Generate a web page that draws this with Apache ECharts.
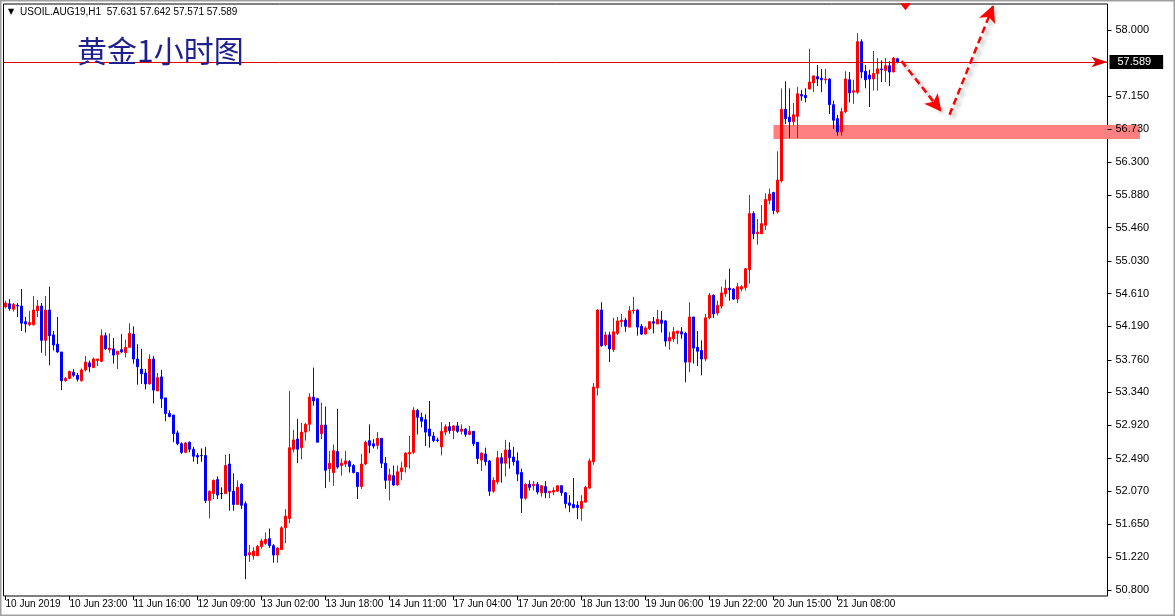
<!DOCTYPE html>
<html><head><meta charset="utf-8">
<script src="https://cdn.jsdelivr.net/npm/echarts@6/dist/echarts.min.js"></script>
<style>html,body{margin:0;padding:0;background:#fff;}#c{width:1175px;height:616px;}</style>
</head><body><div id="c"></div>
<script>
const opens=[54.44,54.48,54.41,54.46,54.45,54.25,54.21,54.21,54.39,54.45,54.01,54.40,54.08,53.96,53.86,53.49,53.52,53.60,53.56,53.49,53.63,53.72,53.66,53.75,53.74,54.07,53.89,53.90,53.83,53.89,53.85,53.92,54.09,53.77,53.64,53.59,53.45,53.77,53.36,53.54,53.27,53.07,53.05,52.82,52.68,52.57,52.70,52.61,52.53,52.53,
52.53,51.95,52.04,52.22,52.04,52.04,52.42,52.07,51.90,52.16,51.91,51.25,51.24,51.24,51.36,51.40,51.46,51.37,51.25,51.32,51.60,51.72,52.61,52.74,52.63,52.83,52.93,53.28,53.26,52.81,52.92,52.36,52.31,52.58,52.40,52.42,52.45,52.40,52.31,52.13,52.42,52.72,52.68,52.66,52.75,52.43,52.21,52.27,52.15,52.32,
52.38,52.55,52.57,53.11,53.02,52.99,52.87,52.78,52.73,52.64,52.83,52.90,52.85,52.91,52.84,52.87,52.80,52.84,52.70,52.47,52.55,52.46,52.07,52.19,52.50,52.43,52.60,52.51,52.46,52.31,51.98,52.16,52.14,52.16,52.05,52.13,52.05,52.06,52.07,52.14,52.05,51.92,51.90,51.89,51.85,51.93,52.11,52.45,53.40,54.40,
53.95,54.08,53.89,54.10,54.25,54.27,54.18,54.39,54.40,54.19,54.09,54.16,54.25,54.22,54.27,54.26,54.00,54.03,54.10,54.12,54.10,53.73,54.31,53.92,53.88,53.77,54.30,54.59,54.36,54.45,54.61,54.68,54.67,54.54,54.67,54.69,54.92,55.64,55.38,55.38,55.49,55.81,55.91,55.66,56.06,56.98,56.88,56.82,56.89,57.17,
57.16,57.24,57.32,57.40,57.38,57.36,57.37,57.04,56.86,56.69,56.95,57.36,57.20,57.20,57.85,57.47,57.42,57.37,57.44,57.50,57.48,57.54,57.46,57.631];
const highs=[54.52,54.54,54.49,54.49,54.67,54.31,54.39,54.58,54.53,54.49,54.58,54.70,54.13,54.31,53.86,53.54,53.62,53.64,53.59,53.65,53.81,53.75,53.79,53.77,54.15,54.11,54.10,54.04,53.87,54.09,54.02,54.23,54.19,53.96,53.90,53.64,53.83,53.81,53.59,53.63,53.27,53.11,53.05,52.85,52.70,52.70,52.71,52.64,52.56,52.62,
52.64,52.08,52.22,52.26,52.12,52.54,52.55,52.30,52.21,52.17,51.94,51.38,51.35,51.38,51.46,51.54,51.59,51.39,51.35,51.62,51.84,53.36,52.86,53.00,52.95,52.95,53.33,53.66,53.27,53.21,53.16,52.59,52.67,53.13,52.49,52.59,52.47,52.42,52.31,52.55,52.72,52.93,52.74,52.83,52.75,52.51,52.36,52.40,52.40,52.45,
52.57,52.78,53.15,53.13,53.08,53.06,53.23,52.83,52.76,52.96,52.93,52.96,52.92,52.96,52.93,52.88,52.91,52.84,52.70,52.57,52.63,52.47,52.25,52.59,52.56,52.73,52.70,52.64,52.57,52.36,52.17,52.21,52.20,52.19,52.15,52.20,52.07,52.12,52.15,52.15,52.06,52.02,52.24,51.94,52.02,52.14,52.49,53.46,54.41,54.50,
54.12,54.12,54.30,54.31,54.35,54.30,54.45,54.57,54.41,54.22,54.19,54.26,54.31,54.40,54.39,54.27,54.12,54.18,54.13,54.18,54.12,54.50,54.31,54.13,54.01,54.35,54.62,54.60,54.52,54.70,54.79,54.93,54.68,54.75,54.72,54.94,55.88,55.67,55.57,55.75,55.90,55.96,55.92,56.44,57.25,57.34,57.25,57.06,57.27,57.23,
57.25,57.76,57.41,57.55,57.50,57.50,57.38,57.09,56.91,57.00,57.47,57.46,57.36,57.96,57.88,57.55,57.49,57.73,57.64,57.61,57.64,57.60,57.65,57.642];
const lows=[54.42,54.39,54.38,54.31,54.13,54.11,54.19,54.20,54.31,53.85,53.81,53.69,53.88,53.85,53.37,53.48,53.51,53.54,53.48,53.48,53.61,53.60,53.66,53.68,53.73,53.89,53.85,53.71,53.64,53.85,53.79,53.92,53.71,53.44,53.45,53.38,53.44,53.20,53.36,53.14,52.97,53.02,52.70,52.66,52.55,52.56,52.57,52.45,52.42,52.45,
51.92,51.72,51.97,51.97,51.97,52.04,51.82,51.82,51.90,51.84,50.94,51.16,51.19,51.24,51.33,51.38,51.34,51.15,51.15,51.32,51.40,51.66,52.57,52.43,52.48,52.72,52.84,53.17,52.70,52.74,52.11,52.19,52.14,52.36,52.27,52.38,52.31,52.30,51.97,52.10,52.41,52.56,52.62,52.61,52.37,52.10,51.95,52.14,52.14,52.21,
52.31,52.36,52.55,52.80,52.89,52.65,52.63,52.70,52.70,52.53,52.79,52.81,52.74,52.82,52.80,52.77,52.80,52.65,52.42,52.33,52.40,52.01,52.05,52.16,52.18,52.26,52.36,52.40,52.20,51.79,51.96,52.08,52.08,52.03,52.00,51.98,51.98,52.02,52.06,52.01,51.85,51.80,51.85,51.71,51.69,51.92,52.10,52.41,53.30,53.93,
53.93,53.73,53.86,54.08,54.18,54.12,54.18,54.35,54.07,54.08,54.09,54.14,54.10,54.22,54.11,53.93,53.89,53.99,53.96,54.03,53.47,53.60,53.71,53.68,53.56,53.74,54.28,54.30,54.33,54.42,54.57,54.52,54.53,54.49,54.64,54.65,54.74,55.31,55.24,55.38,55.43,55.76,55.63,55.64,56.04,56.79,56.61,56.77,56.61,57.09,
57.07,57.24,57.20,57.28,57.20,57.31,56.92,56.73,56.64,56.64,56.93,57.07,57.05,57.18,57.38,57.25,57.01,57.22,57.22,57.33,57.33,57.28,57.46,57.571];
const closes=[54.49,54.42,54.47,54.45,54.23,54.22,54.24,54.40,54.45,54.01,54.40,54.07,53.95,53.86,53.49,53.52,53.61,53.56,53.51,53.63,53.73,53.67,53.77,53.77,54.07,53.90,53.91,53.82,53.87,53.86,53.92,54.10,53.77,53.67,53.58,53.45,53.77,53.37,53.53,53.26,53.07,53.03,52.81,52.68,52.57,52.69,52.61,52.52,52.51,52.53,
51.95,52.07,52.21,52.02,52.04,52.40,52.07,51.90,52.12,51.89,51.24,51.28,51.30,51.36,51.43,51.45,51.37,51.25,51.34,51.60,51.75,52.63,52.73,52.61,52.83,52.93,53.28,53.23,52.70,52.92,52.34,52.43,52.59,52.38,52.43,52.46,52.39,52.31,52.13,52.42,52.70,52.66,52.65,52.75,52.43,52.21,52.28,52.15,52.32,52.37,
52.56,52.57,53.11,53.02,52.97,52.83,52.78,52.72,52.72,52.84,52.90,52.85,52.91,52.84,52.87,52.80,52.84,52.68,52.49,52.56,52.45,52.07,52.21,52.50,52.43,52.60,52.50,52.45,52.29,51.98,52.16,52.12,52.16,52.06,52.14,52.05,52.07,52.08,52.14,52.05,51.91,51.89,51.86,51.86,51.94,52.12,52.46,53.41,54.40,53.94,
54.08,53.90,54.12,54.26,54.27,54.19,54.39,54.40,54.18,54.09,54.17,54.25,54.23,54.28,54.23,54.00,54.05,54.12,54.13,54.09,53.73,54.31,53.91,53.87,53.77,54.30,54.59,54.35,54.46,54.62,54.68,54.66,54.54,54.70,54.70,54.93,55.64,55.38,55.40,55.51,55.82,55.89,55.68,56.07,56.98,56.86,56.82,56.91,57.18,57.15,
57.13,57.33,57.41,57.37,57.36,57.37,57.04,56.84,56.69,56.95,57.37,57.19,57.22,57.85,57.46,57.36,57.37,57.44,57.50,57.49,57.54,57.46,57.64,57.589];
const xTickLabels=['10 Jun 2019','10 Jun 23:00','11 Jun 16:00','12 Jun 09:00','13 Jun 02:00','13 Jun 18:00','14 Jun 11:00','17 Jun 04:00','17 Jun 20:00','18 Jun 13:00','19 Jun 06:00','19 Jun 22:00','20 Jun 15:00','21 Jun 08:00'];
const yTickValues=[50.800,51.220,51.650,52.070,52.490,52.920,53.340,53.760,54.190,54.610,55.030,55.460,55.880,56.300,56.730,57.150,58.000];
const headerText='USOIL.AUG19,H1  57.631 57.642 57.571 57.589';
const titleText='黄金1小时图';
const currentPrice=57.589;
const zoneLow=56.60, zoneHigh=56.78, zoneStartBar=192;
const arrowDown=[[223.5,57.60],[233.5,56.95]];
const arrowUp=[[236.2,56.91],[246.7,58.32]];
const markerTop=[225.2,58.30];
const SLOTS=276, TICK_EVERY=16;

const categories=[];
for(let i=0;i<SLOTS;i++){categories.push(i%TICK_EVERY===0 && i/TICK_EVERY<xTickLabels.length ? xTickLabels[i/TICK_EVERY] : '');}
const candleData=opens.map((o,i)=>[o,closes[i],lows[i],highs[i]]);
const showTick=(idx,val)=>val!=='';
const arrowStyle={color:'#ff0000',width:2.5,type:[7,4],shadowColor:'rgba(0,0,0,0.35)',shadowBlur:4,shadowOffsetX:3,shadowOffsetY:3};

const chart=echarts.init(document.getElementById('c'),null,{renderer:'canvas'});
chart.setOption({
  animation:false,
  backgroundColor:'#ffffff',
  grid:{left:3.5,right:67.5,top:4,bottom:20,show:true,borderColor:'#000',borderWidth:1,backgroundColor:'transparent'},
  xAxis:{type:'category',data:categories,boundaryGap:true,
    axisLine:{show:false},
    axisTick:{show:true,alignWithLabel:true,interval:showTick,length:4,lineStyle:{color:'#000'}},
    axisLabel:{interval:showTick,align:'left',margin:3,fontSize:10,fontFamily:'Liberation Sans',color:'#000'},
    splitLine:{show:false}},
  yAxis:{type:'value',position:'right',min:50.7229,max:58.3343,z:5,
    axisLine:{show:false},
    axisTick:{show:true,length:4,customValues:yTickValues,lineStyle:{color:'#000'}},
    axisLabel:{customValues:yTickValues,margin:8,fontSize:11,fontFamily:'Liberation Sans',color:'#000',formatter:v=>Number(v).toFixed(3)},
    splitLine:{show:false}},
  series:[{
    type:'candlestick',data:candleData,barWidth:2,z:3,
    itemStyle:{color:'#ff0000',color0:'#0000ff',borderColor:'#ff0000',borderColor0:'#0000ff',borderColorDoji:'#000000',borderWidth:1},
    markLine:{silent:true,animation:false,precision:3,
      data:[
        {yAxis:currentPrice,symbol:'none',lineStyle:{color:'#e00000',width:1,type:'solid'},
          label:{show:true,position:'end',distance:2,formatter:currentPrice.toFixed(3),backgroundColor:'#000',color:'#fff',padding:[2,12,1,8],fontSize:11,fontFamily:'Liberation Sans'}},
        [{coord:arrowDown[0],symbol:'none',lineStyle:arrowStyle,label:{show:false}},{coord:arrowDown[1],symbol:'arrow',symbolSize:[13,17]}],
        [{coord:arrowUp[0],symbol:'none',lineStyle:arrowStyle,label:{show:false}},{coord:arrowUp[1],symbol:'arrow',symbolSize:[13,17]}]
      ]},
    markPoint:{silent:true,animation:false,data:[{coord:markerTop,symbol:'triangle',symbolRotate:180,symbolSize:[11,7],itemStyle:{color:'#ff0000'},label:{show:false}}]}
  }]
});

const pTop=chart.convertToPixel({gridIndex:0},[zoneStartBar,zoneHigh]);
const pBot=chart.convertToPixel({gridIndex:0},[zoneStartBar,zoneLow]);
chart.setOption({graphic:[
  {type:'rect',z:1,silent:true,shape:{x:pTop[0],y:pTop[1],width:chart.getWidth()-35-pTop[0],height:pBot[1]-pTop[1]},style:{fill:'#ff8080'}},
  {type:'rect',z:10,silent:true,shape:{x:0.5,y:0.5,width:chart.getWidth()-1,height:chart.getHeight()-1},style:{fill:'none',stroke:'#a0a0a0',lineWidth:2}},
  {type:'text',z:10,left:8,top:8,style:{text:'▼',fontSize:8,fill:'#000',fontFamily:'DejaVu Sans'}},
  {type:'text',z:10,left:20,top:7,style:{text:headerText,fontSize:10,fill:'#000',fontFamily:'Liberation Sans'}},
  {type:'text',z:10,left:77,top:36,style:{text:titleText,fontSize:30,fill:'#1f1f8f',fontFamily:'Noto Sans CJK SC'}}
]});
</script></body></html>
